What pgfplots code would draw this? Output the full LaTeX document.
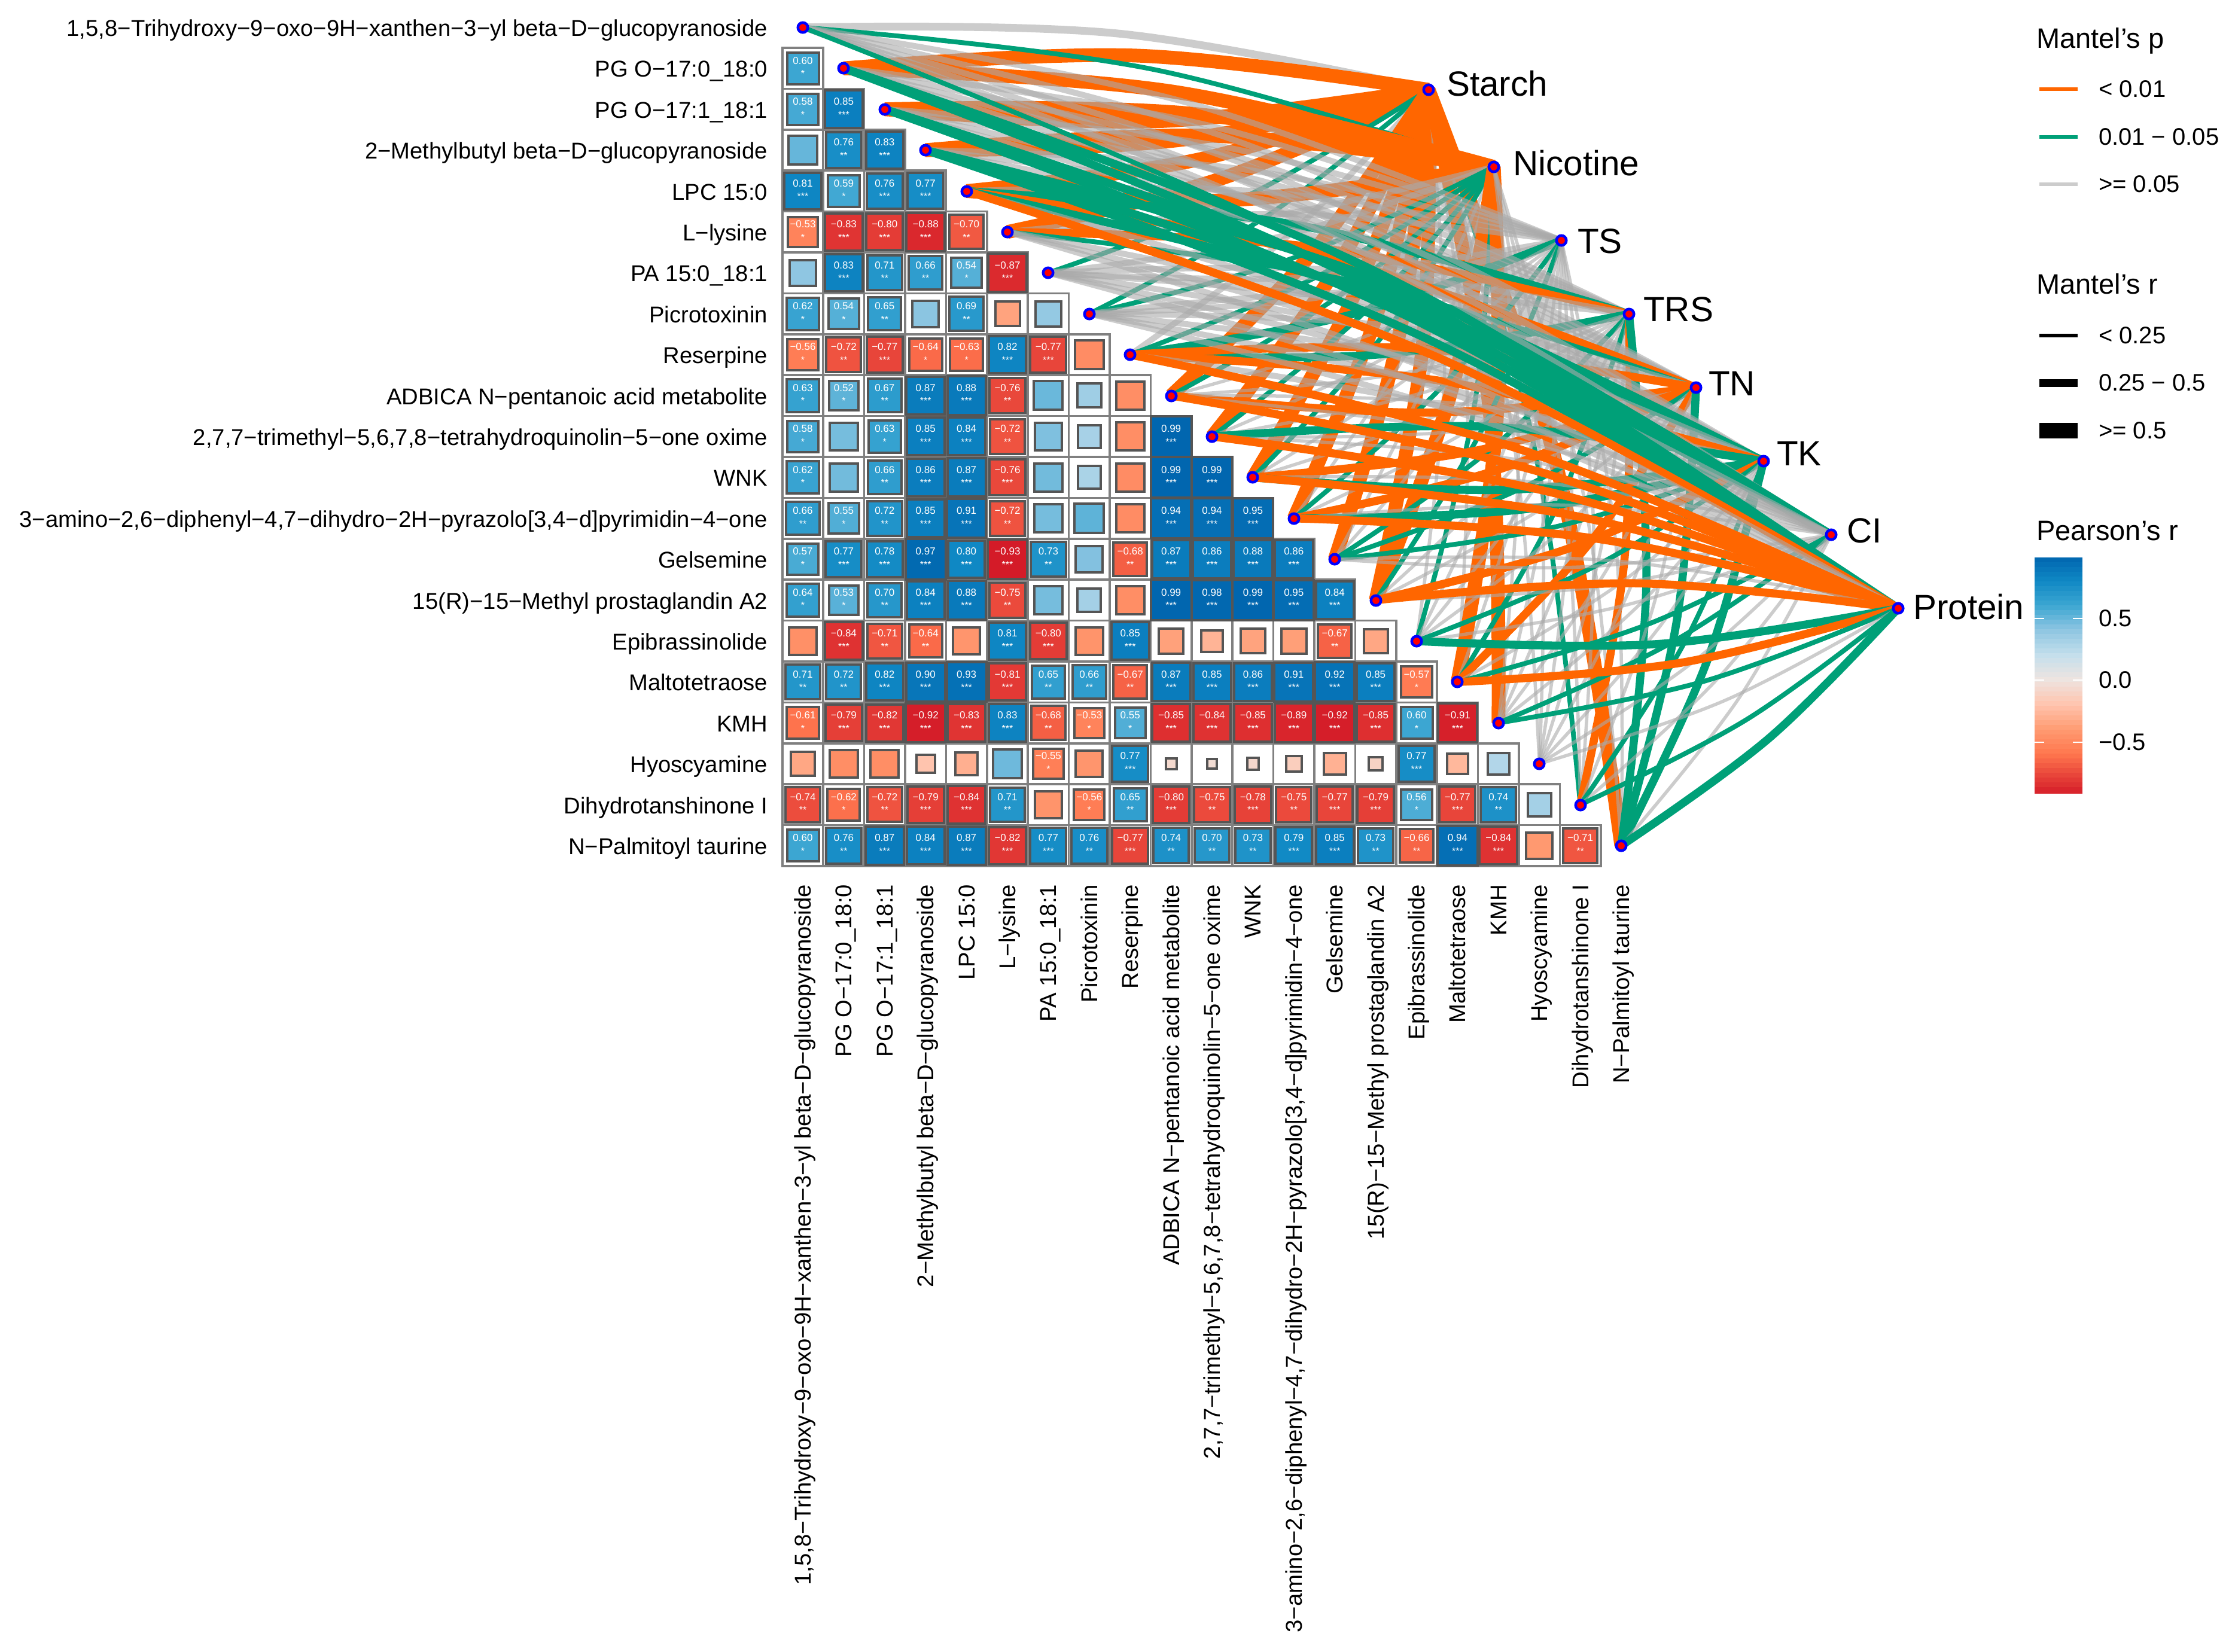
\documentclass[border=0pt]{standalone}
\usepackage{fontspec}
\setmainfont{Liberation Sans}[Ligatures=ResetAll]
\usepackage{pgfplots}
\usepackage{pgfplotstable}
\pgfplotsset{compat=1.18}
\definecolor{lkor}{RGB}{255,102,0}
\definecolor{lkgr}{RGB}{0,160,120}
\definecolor{lkgy}{RGB}{170,170,170}
\definecolor{cellb}{RGB}{128,128,128}
\definecolor{sqb}{RGB}{85,85,85}
\pgfplotsset{
 lkbase/.style={no marks,smooth,tension=0.6,line cap=butt,forget plot},
 lkA/.style={lkbase,draw=lkor,line width=4.6pt},
 lkO/.style={lkbase,draw=lkor,line width=2.7pt},
 lkB/.style={lkbase,draw=lkgr,line width=2.7pt},
 lkG/.style={lkbase,draw=lkgr,line width=2.7pt},
 lkT/.style={lkbase,draw=lkgr,line width=1.6pt},
 lkH/.style={lkbase,draw=lkgy,draw opacity=.6,line width=2.6pt},
 lkh/.style={lkbase,draw=lkgy,draw opacity=.6,line width=2pt},
 lkg/.style={lkbase,draw=lkgy,draw opacity=.6,line width=1.1pt},
}
% Correlation cells: column, row, Pearson r, printed value, stars
\pgfplotstableread{
c w r lab st
0 1 0.60 0.60 *
0 2 0.58 0.58 *
1 2 0.85 0.85 ***
0 3 0.50 {} {}
1 3 0.76 0.76 **
2 3 0.83 0.83 ***
0 4 0.81 0.81 ***
1 4 0.59 0.59 *
2 4 0.76 0.76 ***
3 4 0.77 0.77 ***
0 5 -0.53 −0.53 *
1 5 -0.83 −0.83 ***
2 5 -0.80 −0.80 ***
3 5 -0.88 −0.88 ***
4 5 -0.70 −0.70 **
0 6 0.40 {} {}
1 6 0.83 0.83 ***
2 6 0.71 0.71 **
3 6 0.66 0.66 **
4 6 0.54 0.54 *
5 6 -0.87 −0.87 ***
0 7 0.62 0.62 *
1 7 0.54 0.54 *
2 7 0.65 0.65 **
3 7 0.41 {} {}
4 7 0.69 0.69 **
5 7 -0.36 {} {}
6 7 0.38 {} {}
0 8 -0.56 −0.56 *
1 8 -0.72 −0.72 **
2 8 -0.77 −0.77 ***
3 8 -0.64 −0.64 *
4 8 -0.63 −0.63 *
5 8 0.82 0.82 ***
6 8 -0.77 −0.77 ***
7 8 -0.48 {} {}
0 9 0.63 0.63 *
1 9 0.52 0.52 *
2 9 0.67 0.67 **
3 9 0.87 0.87 ***
4 9 0.88 0.88 ***
5 9 -0.76 −0.76 **
6 9 0.49 {} {}
7 9 0.34 {} {}
8 9 -0.47 {} {}
0 10 0.58 0.58 *
1 10 0.46 {} {}
2 10 0.63 0.63 *
3 10 0.85 0.85 ***
4 10 0.84 0.84 ***
5 10 -0.72 −0.72 **
6 10 0.44 {} {}
7 10 0.31 {} {}
8 10 -0.47 {} {}
9 10 0.99 0.99 ***
0 11 0.62 0.62 *
1 11 0.47 {} {}
2 11 0.66 0.66 **
3 11 0.86 0.86 ***
4 11 0.87 0.87 ***
5 11 -0.76 −0.76 ***
6 11 0.47 {} {}
7 11 0.30 {} {}
8 11 -0.48 {} {}
9 11 0.99 0.99 ***
10 11 0.99 0.99 ***
0 12 0.66 0.66 **
1 12 0.55 0.55 *
2 12 0.72 0.72 **
3 12 0.85 0.85 ***
4 12 0.91 0.91 ***
5 12 -0.72 −0.72 **
6 12 0.46 {} {}
7 12 0.52 {} {}
8 12 -0.48 {} {}
9 12 0.94 0.94 ***
10 12 0.94 0.94 ***
11 12 0.95 0.95 ***
0 13 0.57 0.57 *
1 13 0.77 0.77 ***
2 13 0.78 0.78 ***
3 13 0.97 0.97 ***
4 13 0.80 0.80 ***
5 13 -0.93 −0.93 ***
6 13 0.73 0.73 **
7 13 0.43 {} {}
8 13 -0.68 −0.68 **
9 13 0.87 0.87 ***
10 13 0.86 0.86 ***
11 13 0.88 0.88 ***
12 13 0.86 0.86 ***
0 14 0.64 0.64 *
1 14 0.53 0.53 *
2 14 0.70 0.70 **
3 14 0.84 0.84 ***
4 14 0.88 0.88 ***
5 14 -0.75 −0.75 **
6 14 0.46 {} {}
7 14 0.32 {} {}
8 14 -0.47 {} {}
9 14 0.99 0.99 ***
10 14 0.98 0.98 ***
11 14 0.99 0.99 ***
12 14 0.95 0.95 ***
13 14 0.84 0.84 ***
0 15 -0.46 {} {}
1 15 -0.84 −0.84 ***
2 15 -0.71 −0.71 **
3 15 -0.64 −0.64 **
4 15 -0.43 {} {}
5 15 0.81 0.81 ***
6 15 -0.80 −0.80 ***
7 15 -0.44 {} {}
8 15 0.85 0.85 ***
9 15 -0.37 {} {}
10 15 -0.28 {} {}
11 15 -0.36 {} {}
12 15 -0.38 {} {}
13 15 -0.67 −0.67 **
14 15 -0.34 {} {}
0 16 0.71 0.71 **
1 16 0.72 0.72 **
2 16 0.82 0.82 ***
3 16 0.90 0.90 ***
4 16 0.93 0.93 ***
5 16 -0.81 −0.81 ***
6 16 0.65 0.65 **
7 16 0.66 0.66 **
8 16 -0.67 −0.67 **
9 16 0.87 0.87 ***
10 16 0.85 0.85 ***
11 16 0.86 0.86 ***
12 16 0.91 0.91 ***
13 16 0.92 0.92 ***
14 16 0.85 0.85 ***
15 16 -0.57 −0.57 *
0 17 -0.61 −0.61 *
1 17 -0.79 −0.79 ***
2 17 -0.82 −0.82 ***
3 17 -0.92 −0.92 ***
4 17 -0.83 −0.83 ***
5 17 0.83 0.83 ***
6 17 -0.68 −0.68 **
7 17 -0.53 −0.53 *
8 17 0.55 0.55 *
9 17 -0.85 −0.85 ***
10 17 -0.84 −0.84 ***
11 17 -0.85 −0.85 ***
12 17 -0.89 −0.89 ***
13 17 -0.92 −0.92 ***
14 17 -0.85 −0.85 ***
15 17 0.60 0.60 *
16 17 -0.91 −0.91 ***
0 18 -0.34 {} {}
1 18 -0.47 {} {}
2 18 -0.47 {} {}
3 18 -0.20 {} {}
4 18 -0.30 {} {}
5 18 0.48 {} {}
6 18 -0.55 −0.55 *
7 18 -0.43 {} {}
8 18 0.77 0.77 ***
9 18 -0.07 {} {}
10 18 -0.05 {} {}
11 18 -0.08 {} {}
12 18 -0.14 {} {}
13 18 -0.29 {} {}
14 18 -0.11 {} {}
15 18 0.77 0.77 ***
16 18 -0.26 {} {}
17 18 0.27 {} {}
0 19 -0.74 −0.74 **
1 19 -0.62 −0.62 *
2 19 -0.72 −0.72 **
3 19 -0.79 −0.79 ***
4 19 -0.84 −0.84 ***
5 19 0.71 0.71 **
6 19 -0.44 {} {}
7 19 -0.56 −0.56 *
8 19 0.65 0.65 **
9 19 -0.80 −0.80 ***
10 19 -0.75 −0.75 **
11 19 -0.78 −0.78 ***
12 19 -0.75 −0.75 **
13 19 -0.77 −0.77 ***
14 19 -0.79 −0.79 ***
15 19 0.56 0.56 *
16 19 -0.77 −0.77 ***
17 19 0.74 0.74 **
18 19 0.32 {} {}
0 20 0.60 0.60 *
1 20 0.76 0.76 **
2 20 0.87 0.87 ***
3 20 0.84 0.84 ***
4 20 0.87 0.87 ***
5 20 -0.82 −0.82 ***
6 20 0.77 0.77 ***
7 20 0.76 0.76 **
8 20 -0.77 −0.77 ***
9 20 0.74 0.74 **
10 20 0.70 0.70 **
11 20 0.73 0.73 **
12 20 0.79 0.79 ***
13 20 0.85 0.85 ***
14 20 0.73 0.73 **
15 20 -0.66 −0.66 **
16 20 0.94 0.94 ***
17 20 -0.84 −0.84 ***
18 20 -0.41 {} {}
19 20 -0.71 −0.71 **
}\cells
% Links to one environment factor: target x, target y, class of each of the 21 sources
\newcommand\EnvLinks[3]{%
 \foreach \cl [count=\j from 0] in {#3}{%
  \pgfmathsetmacro\xa{1342+68.4*\j}%
  \pgfmathsetmacro\ya{45.8+68.4*\j}%
  \pgfmathsetmacro\dx{#1-\xa}%
  \pgfmathsetmacro\dy{#2-\ya}%
  \pgfmathsetmacro\xm{(\xa+#1)/2+0.04*abs(\dy)}%
  \pgfmathsetmacro\ym{(\ya+#2)/2-0.04*\dx*(\dy>0?1:-1)}%
  \edef\doit{\noexpand\addplot[lk\cl] coordinates {(\xa,\ya)(\xm,\ym)(#1,#2)};}%
  \doit
 }%
}
\newcommand\RowLab[2]{\node[anchor=mid east,inner sep=0,font=\fontsize{7.65}{9}\selectfont] at (axis cs:1284,#1-4) {#2};}
\newcommand\ColLab[2]{\node[anchor=mid east,inner sep=0,rotate=90,font=\fontsize{7.65}{9}\selectfont] at (axis cs:#1-5,1478) {#2};}
\newcommand\EnvLab[3]{\node[anchor=base west,inner sep=0,font=\fontsize{11.7}{14}\selectfont] at (axis cs:#1,#2) {#3};}
\newcommand\KeyLab[2]{\node[anchor=mid west,inner sep=0,font=\fontsize{8}{10}\selectfont] at (axis cs:3507,#1) {#2};}
\newcommand\LegTitle[2]{\node[anchor=base west,inner sep=0,font=\fontsize{9.4}{11}\selectfont] at (axis cs:3403,#1) {#2};}
\begin{document}
\begin{tikzpicture}
\begin{axis}[
 scale only axis,width=746.2pt,height=552.2pt,
 xmin=0,xmax=3731,ymin=0,ymax=2761,y dir=reverse,
 axis lines=none,clip=false,
 point meta min=-1,point meta max=1,
 colormap={corr}{
  rgb255=(203,10,32) rgb255=(228,60,54) rgb255=(255,118,78) rgb255=(255,155,114)
  rgb255=(255,196,174) rgb255=(238,228,224) rgb255=(196,223,236) rgb255=(143,198,226)
  rgb255=(60,166,210) rgb255=(15,136,196) rgb255=(0,100,174)},
]
\path (axis cs:0,0) (axis cs:3731,2761);
% background cells
\addplot[only marks,mark=square*,mark size=6.84pt,
  mark options={draw=cellb,fill=white,line width=.7pt},forget plot]
  table[x expr=1342+68.4*\thisrow{c},y expr=114.2+68.4*(\thisrow{w}-1)] {\cells};
% sized squares
\addplot[scatter,only marks,mark=square*,forget plot,
  point meta=explicit,
  mark options={line width=.8pt},
  scatter/use mapped color={draw=sqb,fill=mapped color},
  visualization depends on={sqrt(abs(\thisrow{r}))*6.84 \as \sz},
  scatter/@pre marker code/.append style={/tikz/mark size=\sz pt}]
  table[x expr=1342+68.4*\thisrow{c},y expr=114.2+68.4*(\thisrow{w}-1),meta=r] {\cells};
% printed values and stars
\addplot[only marks,mark=none,forget plot,point meta=explicit symbolic,
  nodes near coords,
  every node near coord/.style={anchor=center,inner sep=0,text=white,yshift=2.6pt,font=\fontsize{3.4}{4}\selectfont}]
  table[x expr=1342+68.4*\thisrow{c},y expr=114.2+68.4*(\thisrow{w}-1),meta=lab] {\cells};
\addplot[only marks,mark=none,forget plot,point meta=explicit symbolic,
  nodes near coords,
  every node near coord/.style={anchor=center,inner sep=0,text=white,yshift=-1.8pt,font=\fontsize{3.2}{4}\selectfont}]
  table[x expr=1342+68.4*\thisrow{c},y expr=114.2+68.4*(\thisrow{w}-1),meta=st] {\cells};
% links
\EnvLinks{2388}{150}{H,A,A,A,A,A,T,T,h,A,A,A,A,A,A,g,g,A,g,T,A}
\EnvLinks{2497}{279}{T,A,A,A,A,h,h,T,T,T,T,T,g,g,A,T,A,g,g,g,g}
\EnvLinks{2610}{402}{h,h,h,h,h,h,h,h,G,g,g,g,T,g,T,g,g,g,g,g,g}
\EnvLinks{2723}{525}{h,h,h,h,G,O,h,h,G,g,g,g,g,T,g,g,T,g,g,O,G}
\EnvLinks{2835}{648}{h,h,h,h,O,T,h,h,O,O,g,O,O,T,g,g,O,g,g,g,G}
\EnvLinks{2948}{771}{h,h,h,B,G,h,h,h,O,g,G,G,G,T,O,T,g,g,g,T,G}
\EnvLinks{3061}{894}{h,B,B,B,h,h,h,h,h,g,g,g,g,g,g,g,T,T,g,g,g}
\EnvLinks{3173}{1017}{T,B,B,B,O,h,h,h,O,O,O,O,O,g,O,G,O,T,g,T,G}
% nodes
\addplot[only marks,mark=*,mark size=1.65pt,forget plot,mark options={draw=blue,fill=red,line width=.9pt}]
 coordinates {(1342,46)(1410,114)(1479,183)(1547,251)(1616,320)(1684,388)(1752,456)
 (1821,525)(1889,593)(1958,662)(2026,730)(2094,798)(2163,867)(2231,935)(2300,1004)
 (2368,1072)(2436,1140)(2505,1209)(2573,1277)(2642,1346)(2710,1414)
 (2388,150)(2497,279)(2610,402)(2723,525)(2835,648)(2948,771)(3061,894)(3173,1017)};
% legend keys
\addplot[forget plot,no marks,line cap=butt,draw=lkor,line width=1.3pt] coordinates {(3409,149)(3473,149)};
\addplot[forget plot,no marks,line cap=butt,draw=lkgr,line width=1.3pt] coordinates {(3409,229)(3473,229)};
\addplot[forget plot,no marks,line cap=butt,draw=black!20,line width=1.3pt] coordinates {(3409,308)(3473,308)};
\addplot[forget plot,no marks,line cap=butt,draw=black,line width=1.2pt] coordinates {(3409,561)(3473,561)};
\addplot[forget plot,no marks,line cap=butt,draw=black,line width=2.6pt] coordinates {(3409,640)(3473,640)};
\addplot[forget plot,no marks,line cap=butt,draw=black,line width=5.2pt] coordinates {(3409,720)(3473,720)};
% colour bar
\addplot[mesh,forget plot,no marks,line width=16pt,line cap=butt,point meta={(1137-y)/207}]
 coordinates {(3441,932)(3441,940)(3441,948)(3441,956)(3441,964)(3441,972)(3441,980)(3441,988)(3441,996)(3441,1004)(3441,1012)(3441,1020)(3441,1028)(3441,1036)(3441,1044)(3441,1052)
 (3441,1060)(3441,1068)(3441,1076)(3441,1084)(3441,1092)(3441,1100)(3441,1108)(3441,1116)(3441,1124)(3441,1132)(3441,1140)(3441,1148)(3441,1156)(3441,1164)(3441,1172)(3441,1180)
 (3441,1188)(3441,1196)(3441,1204)(3441,1212)(3441,1220)(3441,1228)(3441,1236)(3441,1244)(3441,1252)(3441,1260)(3441,1268)(3441,1276)(3441,1284)(3441,1292)(3441,1300)(3441,1308)(3441,1316)(3441,1327)};
\addplot[forget plot,no marks,draw=white,line width=.3pt] coordinates {(3401,1034)(3417,1034)};
\addplot[forget plot,no marks,draw=white,line width=.3pt] coordinates {(3465,1034)(3481,1034)};
\addplot[forget plot,no marks,draw=white,line width=.3pt] coordinates {(3401,1137)(3417,1137)};
\addplot[forget plot,no marks,draw=white,line width=.3pt] coordinates {(3465,1137)(3481,1137)};
\addplot[forget plot,no marks,draw=white,line width=.3pt] coordinates {(3401,1241)(3417,1241)};
\addplot[forget plot,no marks,draw=white,line width=.3pt] coordinates {(3465,1241)(3481,1241)};
% row labels
\RowLab{51}{1,5,8−Trihydroxy−9−oxo−9H−xanthen−3−yl beta−D−glucopyranoside}
\RowLab{119}{PG O−17:0\_18:0}
\RowLab{188}{PG O−17:1\_18:1}
\RowLab{256}{2−Methylbutyl beta−D−glucopyranoside}
\RowLab{325}{LPC 15:0}
\RowLab{393}{L−lysine}
\RowLab{461}{PA 15:0\_18:1}
\RowLab{530}{Picrotoxinin}
\RowLab{598}{Reserpine}
\RowLab{667}{ADBICA N−pentanoic acid metabolite}
\RowLab{735}{2,7,7−trimethyl−5,6,7,8−tetrahydroquinolin−5−one oxime}
\RowLab{803}{WNK}
\RowLab{872}{3−amino−2,6−diphenyl−4,7−dihydro−2H−pyrazolo[3,4−d]pyrimidin−4−one}
\RowLab{940}{Gelsemine}
\RowLab{1009}{15(R)−15−Methyl prostaglandin A2}
\RowLab{1077}{Epibrassinolide}
\RowLab{1145}{Maltotetraose}
\RowLab{1214}{KMH}
\RowLab{1282}{Hyoscyamine}
\RowLab{1351}{Dihydrotanshinone I}
\RowLab{1419}{N−Palmitoyl taurine}
% column labels
\ColLab{1347}{1,5,8−Trihydroxy−9−oxo−9H−xanthen−3−yl beta−D−glucopyranoside}
\ColLab{1415}{PG O−17:0\_18:0}
\ColLab{1484}{PG O−17:1\_18:1}
\ColLab{1552}{2−Methylbutyl beta−D−glucopyranoside}
\ColLab{1621}{LPC 15:0}
\ColLab{1689}{L−lysine}
\ColLab{1757}{PA 15:0\_18:1}
\ColLab{1826}{Picrotoxinin}
\ColLab{1894}{Reserpine}
\ColLab{1963}{ADBICA N−pentanoic acid metabolite}
\ColLab{2031}{2,7,7−trimethyl−5,6,7,8−tetrahydroquinolin−5−one oxime}
\ColLab{2099}{WNK}
\ColLab{2168}{3−amino−2,6−diphenyl−4,7−dihydro−2H−pyrazolo[3,4−d]pyrimidin−4−one}
\ColLab{2236}{Gelsemine}
\ColLab{2305}{15(R)−15−Methyl prostaglandin A2}
\ColLab{2373}{Epibrassinolide}
\ColLab{2441}{Maltotetraose}
\ColLab{2510}{KMH}
\ColLab{2578}{Hyoscyamine}
\ColLab{2647}{Dihydrotanshinone I}
\ColLab{2715}{N−Palmitoyl taurine}
% environment labels
\EnvLab{2417}{160}{Starch}
\EnvLab{2528}{293}{Nicotine}
\EnvLab{2636}{423}{TS}
\EnvLab{2746}{537}{TRS}
\EnvLab{2855}{661}{TN}
\EnvLab{2969}{778}{TK}
\EnvLab{3086}{907}{CI}
\EnvLab{3197}{1035}{Protein}
% legends
\LegTitle{80}{Mantel's p}
\KeyLab{149}{< 0.01}
\KeyLab{229}{0.01 − 0.05}
\KeyLab{308}{>= 0.05}
\LegTitle{491}{Mantel's r}
\KeyLab{561}{< 0.25}
\KeyLab{640}{0.25 − 0.5}
\KeyLab{720}{>= 0.5}
\LegTitle{903}{Pearson's r}
\KeyLab{1034}{0.5}
\KeyLab{1137}{0.0}
\KeyLab{1241}{−0.5}
\end{axis}
\end{tikzpicture}
\end{document}
